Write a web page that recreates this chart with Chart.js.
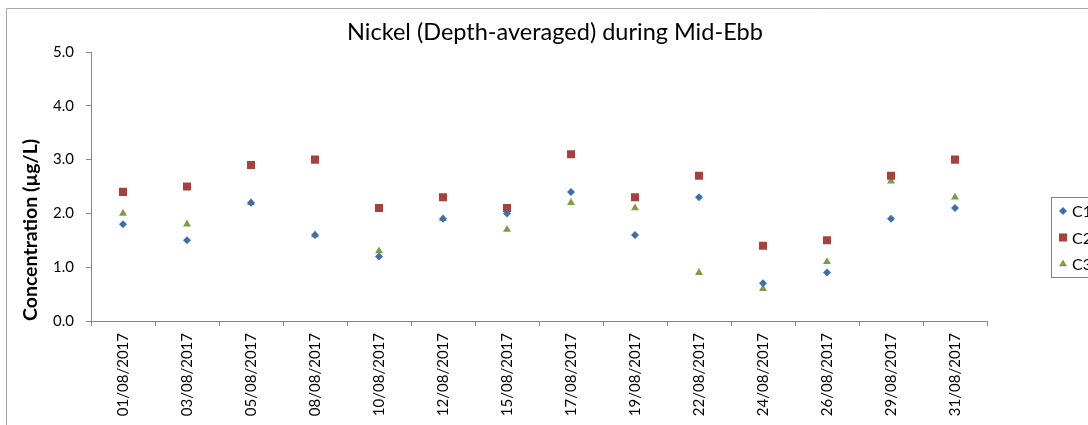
<!DOCTYPE html>
<html>
<head>
<meta charset="utf-8">
<script src="https://cdn.jsdelivr.net/npm/chart.js@4/dist/chart.umd.min.js"></script>
<style>
  html, body { margin: 0; padding: 0; background: #fff; overflow: hidden; }
  #wrap { width: 1088px; height: 425px; }
</style>
</head>
<body>
<div id="wrap"><canvas id="chart" width="1088" height="425"></canvas></div>
<script>
const dates = ['01/08/2017', '03/08/2017', '05/08/2017', '08/08/2017', '10/08/2017', '12/08/2017', '15/08/2017',
    '17/08/2017', '19/08/2017', '22/08/2017', '24/08/2017', '26/08/2017', '29/08/2017', '31/08/2017'];
const c1 = [1.8, 1.5, 2.2, 1.6, 1.2, 1.9, 2.0, 2.4, 1.6, 2.3, 0.7, 0.9, 1.9, 2.1];
const c2 = [2.4, 2.5, 2.9, 3.0, 2.1, 2.3, 2.1, 3.1, 2.3, 2.7, 1.4, 1.5, 2.7, 3.0];
const c3 = [2.0, 1.8, 2.2, 1.6, 1.3, 1.9, 1.7, 2.2, 2.1, 0.9, 0.6, 1.1, 2.6, 2.3];
const yTicks = [0, 1, 2, 3, 4, 5];

const axisGrey = '#868686';

// title, outer border and legend box drawn by hand to match the sheet layout
const decor = {
    id: 'decor',
    beforeDraw(chart) {
        const ctx = chart.ctx;
        ctx.save();
        ctx.strokeStyle = '#a6a6a6';
        ctx.lineWidth = 1;
        ctx.beginPath();
        ctx.moveTo(6.5, 425);
        ctx.lineTo(6.5, 8.5);
        ctx.lineTo(1088, 8.5);
        ctx.stroke();
        ctx.restore();
    },
    afterDraw(chart) {
        const ctx = chart.ctx;
        ctx.save();
        ctx.fillStyle = '#000';
        ctx.font = '23.5px Lato';
        ctx.textAlign = 'center';
        ctx.textBaseline = 'middle';
        ctx.fillText('Nickel (Depth-averaged) during Mid-Ebb', 555, 32);

        ctx.strokeStyle = '#7f7f7f';
        ctx.lineWidth = 1;
        ctx.strokeRect(1051.5, 197.5, 60, 80);

        chart.data.datasets.forEach((ds, i) => {
            const y = 211 + i * 26.5;
            ctx.fillStyle = ds.backgroundColor;
            Chart.helpers.drawPoint(ctx, {
                pointStyle: ds.pointStyle,
                radius: ds.pointRadius,
                rotation: 0,
                borderWidth: 0
            }, 1063, y);
            ctx.fillStyle = '#000';
            ctx.font = '16px Lato';
            ctx.textAlign = 'left';
            ctx.textBaseline = 'middle';
            ctx.fillText(ds.label, 1072, y + 1);
        });
        ctx.restore();
    }
};

new Chart(document.getElementById('chart'), {
    type: 'line',
    data: {
        labels: dates,
        datasets: [
            { label: 'C1', data: c1, showLine: false, pointStyle: 'rectRot', pointRadius: 4,
              backgroundColor: '#3f6eaf', borderColor: '#3f6eaf', pointBorderWidth: 0 },
            { label: 'C2', data: c2, showLine: false, pointStyle: 'rect', pointRadius: 5.7,
              backgroundColor: '#a8403d', borderColor: '#a8403d', pointBorderWidth: 0 },
            { label: 'C3', data: c3, showLine: false, pointStyle: 'triangle', pointRadius: 4.6,
              backgroundColor: '#7f9c45', borderColor: '#7f9c45', pointBorderWidth: 0 }
        ]
    },
    options: {
        responsive: false,
        animation: false,
        layout: { padding: { top: 52, right: 101, left: 0, bottom: 0 } },
        plugins: {
            legend: { display: false },
            title: { display: false },
            tooltip: { enabled: false }
        },
        scales: {
            x: {
                offset: true,
                grid: { offset: true, drawOnChartArea: false, tickLength: 5, color: axisGrey },
                border: { color: axisGrey },
                ticks: {
                    minRotation: 90, maxRotation: 90, padding: 7, color: '#000',
                    font: { family: 'Lato', size: 15 }
                },
                afterFit(s) { s.height = 104; }
            },
            y: {
                min: 0,
                max: 5,
                afterBuildTicks(s) { s.ticks = yTicks.map(v => ({ value: v })); },
                grid: { drawOnChartArea: false, tickLength: 5, color: axisGrey },
                border: { color: axisGrey },
                ticks: {
                    padding: 12, color: '#000',
                    font: { family: 'Lato', size: 15 },
                    callback: v => v.toFixed(1)
                },
                title: {
                    display: true,
                    text: 'Concentration (µg/L)',
                    align: 'start',
                    color: '#000',
                    font: { family: 'Lato', size: 19.5, weight: 'bold' },
                    padding: { top: 19 }
                },
                afterFit(s) { s.width = 91; }
            }
        }
    },
    plugins: [decor]
});
</script>
</body>
</html>
